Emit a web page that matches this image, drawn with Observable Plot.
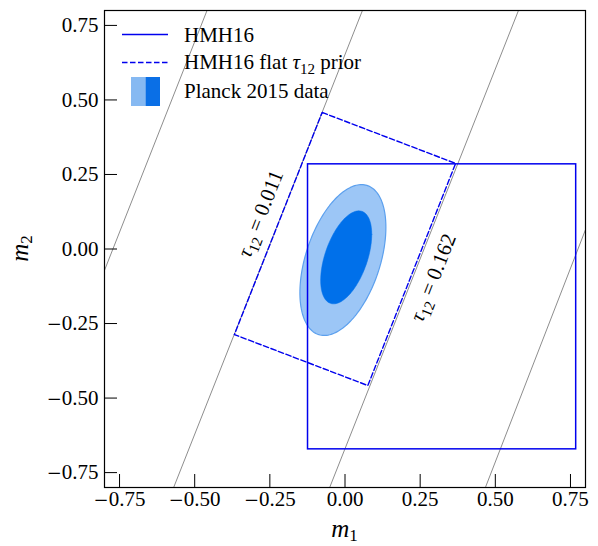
<!DOCTYPE html>
<html><head><meta charset="utf-8">
<script src="https://cdn.jsdelivr.net/npm/d3@7"></script>
<script src="https://cdn.jsdelivr.net/npm/@observablehq/plot@0.6"></script>
<style>
body{margin:0;background:#fff;}
#wrap{position:relative;width:598px;height:546px;font-family:"Liberation Serif",serif;}
#wrap svg{display:block;}
</style></head><body><div id="wrap"></div>
<script>
// ---- data ----
const tickValues = [-0.75, -0.5, -0.25, 0, 0.25, 0.5, 0.75];
// constant-tau gray lines: x where they cross y=-0.8 and y=0.8
const grayXAtBottom = [-1.085, -0.570, -0.051, 0.467];
const grayXAtTop = [-0.459, 0.058, 0.577, 1.083];
// HMH16 solid box
const boxX = [-0.123, 0.769];
const boxY = [-0.672, 0.284];
// HMH16 flat tau12 prior (dashed parallelogram corners)
const priorX = [-0.076, 0.368, 0.076, -0.368];
const priorY = [0.458, 0.287, -0.458, -0.287];
// Planck 2015 contours (outer = 2 sigma, inner = 1 sigma)
const ellipseLevel = ["outer", "inner"];
const ellipseCx = [-0.007, 0.004];
const ellipseCy = [-0.037, -0.028];
const ellipseHalfWidth = [0.143, 0.085];
const ellipseHalfHeight = [0.253, 0.156];
const ellipseTopOffset = [0.062, 0.042];
// tau labels
const tauLabel = ["τ12 = 0.011", "τ12 = 0.162"];
const tauLabelX = [-0.281, 0.293];
const tauLabelY = [0.118, -0.096];
// legend
const legendLabels = ["HMH16", "HMH16 flat τ12 prior", "Planck 2015 data"];

// ---- build tables ----
const grayLines = grayXAtBottom.map((xb, i) => ({x1: xb, y1: -0.8, x2: grayXAtTop[i], y2: 0.8}));
const prior = priorX.map((x, i) => ({x, y: priorY[i]}));
const box = [{x1: boxX[0], x2: boxX[1], y1: boxY[0], y2: boxY[1]}];
function ellipsePoints(i) {
  const a = ellipseHalfWidth[i];
  const sxy = ellipseTopOffset[i] * ellipseHalfHeight[i];
  const b = sxy / a;
  const c = Math.sqrt(ellipseHalfHeight[i] ** 2 - b * b);
  return d3.range(0, 361, 2).map(t => {
    const r = t * Math.PI / 180;
    return {x: ellipseCx[i] + a * Math.cos(r), y: ellipseCy[i] + b * Math.cos(r) + c * Math.sin(r)};
  });
}
const outer = ellipsePoints(0), inner = ellipsePoints(1);
const tauTexts = tauLabel.map((t, i) => ({t, x: tauLabelX[i], y: tauLabelY[i]}));

const FONT = "Liberation Serif, serif";
const fmt = d3.format(".2f");
const chart = Plot.plot({
  width: 598, height: 546,
  marginLeft: 104, marginRight: 13, marginTop: 10, marginBottom: 59,
  style: {fontFamily: FONT, fontSize: "21px", background: "white", color: "black"},
  x: {domain: [-0.8, 0.8], label: null},
  y: {domain: [-0.8, 0.8], label: null},
  marks: [
    Plot.link(grayLines, {x1: "x1", y1: "y1", x2: "x2", y2: "y2", stroke: "#707070", strokeWidth: 0.8, clip: true}),
    Plot.line(outer, {x: "x", y: "y", curve: "linear-closed", fill: "#9cc6f6", stroke: "#5ca0ee", strokeWidth: 1.2}),
    Plot.line(inner, {x: "x", y: "y", curve: "linear-closed", fill: "#0070ea", stroke: "#0070ea", strokeWidth: 0.5}),
    Plot.line(prior, {x: "x", y: "y", curve: "linear-closed", stroke: "#0000ee", strokeWidth: 1.4, strokeDasharray: "5.5,2.5"}),
    Plot.rect(box, {x1: "x1", x2: "x2", y1: "y1", y2: "y2", fill: "none", stroke: "#0000ee", strokeWidth: 1.5}),
    Plot.text(tauTexts, {x: "x", y: "y", text: "t", rotate: -68.5, fontSize: 21, fontFamily: FONT, fill: "black"}),
    Plot.frame({stroke: "black", strokeWidth: 1.2}),
    Plot.axisX(tickValues, {tickSize: -13, text: null, stroke: "black"}),
    Plot.axisY(tickValues, {tickSize: -13, text: null, stroke: "black"}),
    Plot.axisX(tickValues, {tickSize: 0, tickPadding: 4, tickFormat: fmt, fontSize: 21, fontFamily: FONT, fill: "black"}),
    Plot.axisY(tickValues, {tickSize: 0, tickPadding: 6, tickFormat: fmt, fontSize: 21, fontFamily: FONT, fill: "black"})
  ]
});
document.getElementById("wrap").appendChild(chart);

const svg = d3.select(chart);
svg.selectAll("text").attr("font-family", FONT);

svg.selectAll("text").each(function() {
  const s = this.textContent;
  const t = d3.select(this);
  if (s.startsWith("τ12")) {
    // italic tau with subscript
    const rest = s.slice(3);
    t.text(null);
    t.append("tspan").attr("font-style", "italic").text("τ");
    t.append("tspan").attr("font-size", "15px").attr("dy", 5).text("12");
    t.append("tspan").attr("dy", -5).text(rest);
  } else if (s.startsWith("−")) {
    // wider math minus sign
    const rest = s.slice(1);
    t.text(null);
    t.append("tspan").attr("font-family", "DejaVu Serif").attr("font-size", "18px").text("−");
    t.append("tspan").text(rest);
  }
});

// legend + axis labels (overlay in same svg)
const g = svg.append("g").attr("font-family", FONT).attr("font-size", 21).attr("fill", "black").attr("text-anchor", "start");
g.append("line").attr("x1", 122).attr("x2", 168).attr("y1", 34.5).attr("y2", 34.5).attr("stroke", "#0000ee").attr("stroke-width", 1.5);
g.append("line").attr("x1", 122).attr("x2", 168).attr("y1", 62.5).attr("y2", 62.5).attr("stroke", "#0000ee").attr("stroke-width", 1.4).attr("stroke-dasharray", "5.5,2.5");
g.append("rect").attr("x", 131).attr("y", 77).attr("width", 14.5).attr("height", 29).attr("fill", "#86b9f2");
g.append("rect").attr("x", 145.5).attr("y", 77).attr("width", 14.5).attr("height", 29).attr("fill", "#0a6fe6");
g.append("text").attr("x", 184).attr("y", 42).text(legendLabels[0]);
const t2 = g.append("text").attr("x", 184).attr("y", 69);
const parts = legendLabels[1].split("τ12");
t2.append("tspan").text(parts[0]);
t2.append("tspan").attr("font-style", "italic").text("τ");
t2.append("tspan").attr("font-size", "15px").attr("dy", 5).text("12");
t2.append("tspan").attr("dy", -5).text(parts[1]);
g.append("text").attr("x", 184).attr("y", 98).text(legendLabels[2]);

const xl = g.append("text").attr("x", 344.5).attr("y", 537).attr("text-anchor", "middle").attr("font-size", 25);
xl.append("tspan").attr("font-style", "italic").text("m");
xl.append("tspan").attr("font-size", 17).attr("dy", 4).text("1");
const yl = g.append("text").attr("transform", "translate(28,248.5) rotate(-90)").attr("text-anchor", "middle").attr("font-size", 25);
yl.append("tspan").attr("font-style", "italic").text("m");
yl.append("tspan").attr("font-size", 17).attr("dy", 4).text("2");
</script>
</body></html>
